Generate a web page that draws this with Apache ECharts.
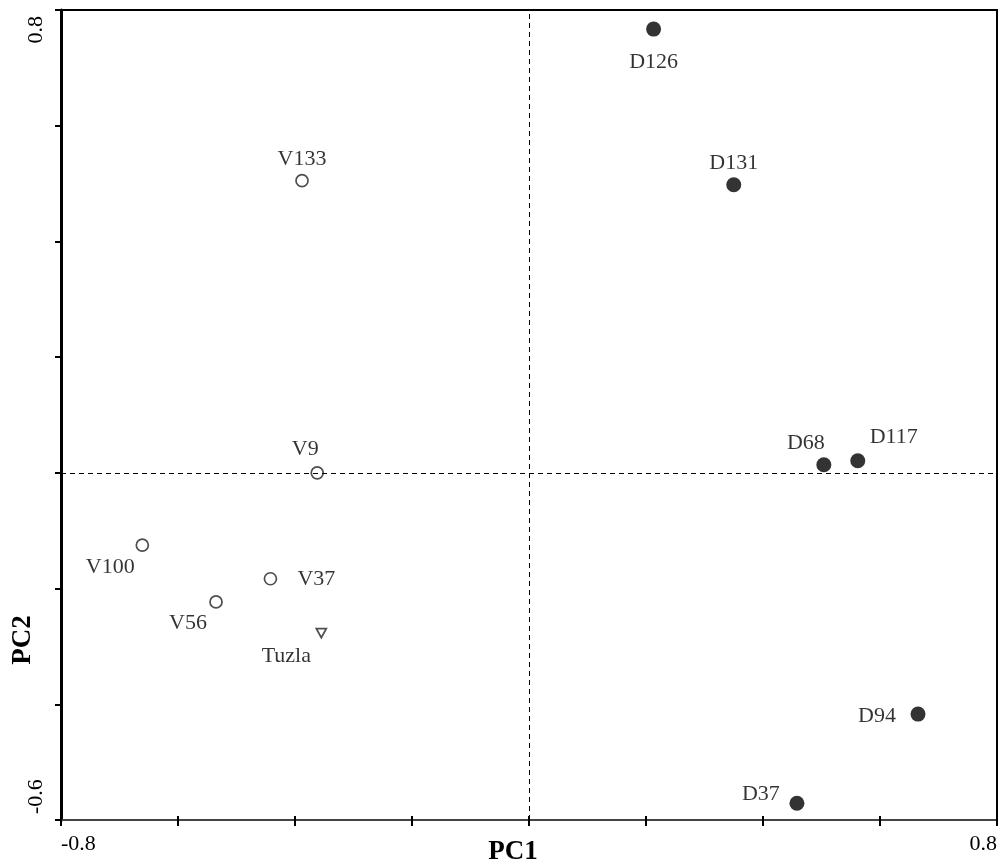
<!DOCTYPE html>
<html>
<head>
<meta charset="utf-8">
<script src="https://cdn.jsdelivr.net/npm/echarts@6/dist/echarts.min.js"></script>
<style>
  html, body { margin: 0; padding: 0; background: #fff; }
  #chart { width: 1000px; height: 864px; }
</style>
</head>
<body>
<div id="chart"></div>
<script>
// PCA scores: D group (filled), V group (open circles), Tuzla (open triangle)
const dNames = ['D126', 'D131', 'D68', 'D117', 'D94', 'D37'];
const dPC1 = [0.213, 0.350, 0.504, 0.562, 0.665, 0.458];
const dPC2 = [0.767, 0.498, 0.014, 0.021, -0.417, -0.571];

const vNames = ['V133', 'V9', 'V100', 'V37', 'V56'];
const vPC1 = [-0.388, -0.362, -0.661, -0.442, -0.535];
const vPC2 = [0.505, 0.000, -0.125, -0.183, -0.223];

const tNames = ['Tuzla'];
const tPC1 = [-0.355];
const tPC2 = [-0.277];

const xTickLabels = ['-0.8', '0.8'];
const yTickLabels = ['-0.6', '0.8'];

// where each point's name sits relative to its marker
const labelOffset = {
  D126: [0, 33], D131: [0, -22], D68: [-18, -22], D117: [36, -23],
  D94: [-41, 2], D37: [-36, -9],
  V133: [0, -21], V9: [-12, -24], V100: [-32, 22], V37: [46, 0], V56: [-28, 21],
  Tuzla: [-35, 23]
};

const font = "'Liberation Serif', 'Times New Roman', serif";

function toData(names, xs, ys) {
  return names.map((n, i) => ({
    name: n,
    value: [xs[i], ys[i]],
    label: { offset: labelOffset[n] }
  }));
}

const pointLabel = {
  show: true,
  position: 'inside',
  formatter: p => p.name,
  color: '#000',
  fontFamily: font,
  fontSize: 22
};

const chart = echarts.init(document.getElementById('chart'));
chart.setOption({
  backgroundColor: '#fff',
  animation: false,
  grid: {
    left: 61, right: 3, top: 10, bottom: 44,
    outerBoundsMode: 'none', containLabel: false,
    show: true, borderColor: '#000', borderWidth: 2
  },
  xAxis: [{
    type: 'value', min: -0.8, max: 0.8, interval: 0.2,
    position: 'bottom',
    splitLine: { show: false },
    axisLine: { onZero: false, lineStyle: { color: '#444', width: 2 } },
    axisTick: { length: 6, lineStyle: { color: '#000', width: 2 } },
    axisLabel: {
      margin: 13,
      color: '#000', fontFamily: font, fontSize: 22,
      alignMinLabel: 'left', alignMaxLabel: 'right',
      formatter: v => {
        const s = v.toFixed(1);
        return xTickLabels.includes(s) ? s : '';
      }
    }
  }, {
    type: 'value', min: -0.8, max: 0.8, interval: 0.2,
    position: 'bottom',
    splitLine: { show: false },
    axisLine: { show: false, onZero: false },
    axisTick: { inside: true, length: 4, lineStyle: { color: '#000', width: 2 } },
    axisLabel: { show: false }
  }],
  yAxis: {
    type: 'value', min: -0.6, max: 0.8, interval: 0.2,
    splitLine: { show: false },
    axisLine: { onZero: false, lineStyle: { color: '#000', width: 3 } },
    axisTick: { length: 6, lineStyle: { color: '#000', width: 2 } },
    axisLabel: {
      rotate: 90, margin: 14,
      color: '#000', fontFamily: font, fontSize: 22,
      padding: [0, 6, 0, 6],
      alignMinLabel: 'left', alignMaxLabel: 'right',
      formatter: v => {
        const s = v.toFixed(1);
        return yTickLabels.includes(s) ? s : '';
      }
    }
  },
  // axis titles
  graphic: [{
    type: 'text',
    x: 513, y: 852,
    style: {
      text: 'PC1', fontFamily: font, fontSize: 27, fontWeight: 'bold',
      fill: '#000', align: 'center', verticalAlign: 'middle'
    }
  }, {
    type: 'text',
    x: 23, y: 640, rotation: Math.PI / 2,
    style: {
      text: 'PC2', fontFamily: font, fontSize: 27, fontWeight: 'bold',
      fill: '#000', align: 'center', verticalAlign: 'middle'
    }
  }],
  series: [{
    name: 'axes', type: 'scatter', data: [], silent: true,
    markLine: {
      silent: true, symbol: 'none', label: { show: false },
      lineStyle: { color: '#000', type: [5, 4], width: 1 },
      data: [{ xAxis: 0 }, { yAxis: 0 }]
    }
  }, {
    name: 'D', type: 'scatter', symbol: 'circle', symbolSize: 15,
    itemStyle: { color: '#000' },
    label: pointLabel,
    data: toData(dNames, dPC1, dPC2)
  }, {
    name: 'V', type: 'scatter', symbol: 'circle', symbolSize: 12,
    itemStyle: { color: '#fff', borderColor: '#222', borderWidth: 1.7 },
    label: pointLabel,
    data: toData(vNames, vPC1, vPC2)
  }, {
    name: 'Tuzla', type: 'scatter',
    symbol: 'path://M0,0 L10,0 L5,9 Z', symbolSize: [10, 9],
    itemStyle: { color: '#fff', borderColor: '#222', borderWidth: 1.7 },
    label: pointLabel,
    data: toData(tNames, tPC1, tPC2)
  }]
});
</script>
</body>
</html>
